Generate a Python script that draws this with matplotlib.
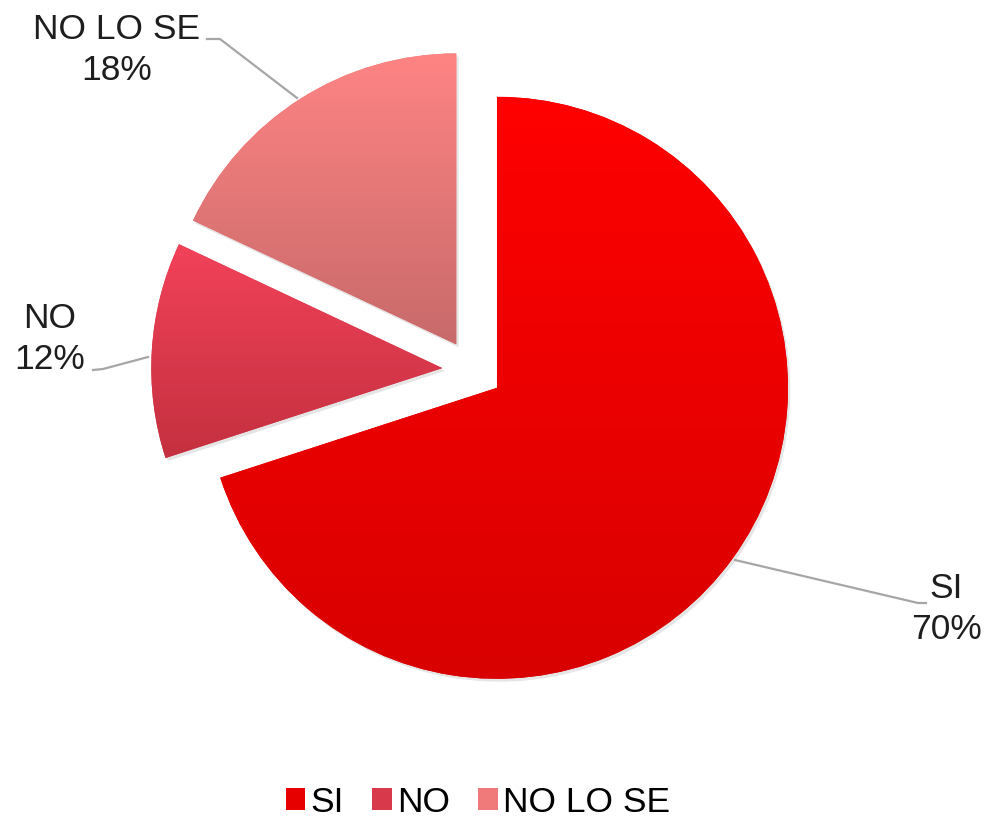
import numpy as np
import matplotlib
matplotlib.use('Agg')
import matplotlib.pyplot as plt
from matplotlib.patches import Patch, Wedge
from matplotlib.colors import to_rgb
from matplotlib.lines import Line2D

plt.rcParams['font.family'] = ['Liberation Sans', 'DejaVu Sans']

categories = ['SI', 'NO', 'NO LO SE']
values = [70, 12, 18]
top_colors = ['#FF0000', '#F2425A', '#FF8484']
bottom_colors = ['#D80000', '#C4303F', '#C86A6A']
legend_colors = ['#E60000', '#D83A4C', '#F07A7A']

W, H = 988, 817
fig = plt.figure(figsize=(W / 100, H / 100), dpi=100)
ax = fig.add_axes([0, 0, 1, 1])

cx, cy = 472.5, 370.0   # pie centre in image pixels
R = 291.0               # radius in pixels

wedges, _ = ax.pie(values, startangle=90, counterclock=False,
                   explode=[0.104] * 3, radius=1, center=(0, 0),
                   colors=legend_colors, wedgeprops=dict(linewidth=0))
ax.set_xlim((0 - cx) / R, (W - cx) / R)
ax.set_ylim(-(H - cy) / R, cy / R)
ax.set_aspect('equal', adjustable='box')
ax.axis('off')

# subtle shadows + vertical gradients
for w, ct, cb in zip(wedges, top_colors, bottom_colors):
    sh = Wedge((w.center[0] + 0.008, w.center[1] - 0.010), w.r, w.theta1, w.theta2,
               facecolor='#000000', alpha=0.10, linewidth=0, zorder=0.5)
    ax.add_patch(sh)
    verts = w.get_path().vertices
    x0, x1 = verts[:, 0].min(), verts[:, 0].max()
    y0, y1 = verts[:, 1].min(), verts[:, 1].max()
    t = np.linspace(0, 1, 256)[:, None]
    grad = (1 - t) * np.array(to_rgb(cb)) + t * np.array(to_rgb(ct))
    img = ax.imshow(grad[:, None, :], extent=(x0, x1, y0, y1), origin='lower',
                    aspect='auto', zorder=2, interpolation='bilinear')
    img.set_clip_path(w)
ax.set_xlim((0 - cx) / R, (W - cx) / R)
ax.set_ylim(-(H - cy) / R, cy / R)

def fx(x):
    return x / W

def fy(y):
    return 1 - y / H

# leader lines (image pixel coords)
leaders = [
    [(735, 560), (918, 603), (926, 603)],
    [(148, 357), (103, 369), (93, 370)],
    [(297, 98), (220, 39), (207, 39)],
]
for pts in leaders:
    xs = [fx(p[0]) for p in pts]
    ys = [fy(p[1]) for p in pts]
    fig.add_artist(Line2D(xs, ys, transform=fig.transFigure, color='#A6A6A6', lw=1.6))

label_pos = [(946, 609), (50, 339), (117, 50)]
for cat, v, (x, y) in zip(categories, values, label_pos):
    fig.text(fx(x), fy(y), f"{cat}\n{v}%", ha='center', va='center',
             fontsize=25.5, linespacing=1.3, color='#1E1E1E')

handles = [Patch(facecolor=c, edgecolor='none') for c in legend_colors]
fig.legend(handles, categories, loc='center', bbox_to_anchor=(478 / W, fy(802)),
           ncol=3, frameon=False, fontsize=25.5, handlelength=0.55, handleheight=0.55,
           handletextpad=0.15, columnspacing=0.8, borderpad=0, borderaxespad=0)

fig.savefig('out.png', dpi=100, facecolor='white')
